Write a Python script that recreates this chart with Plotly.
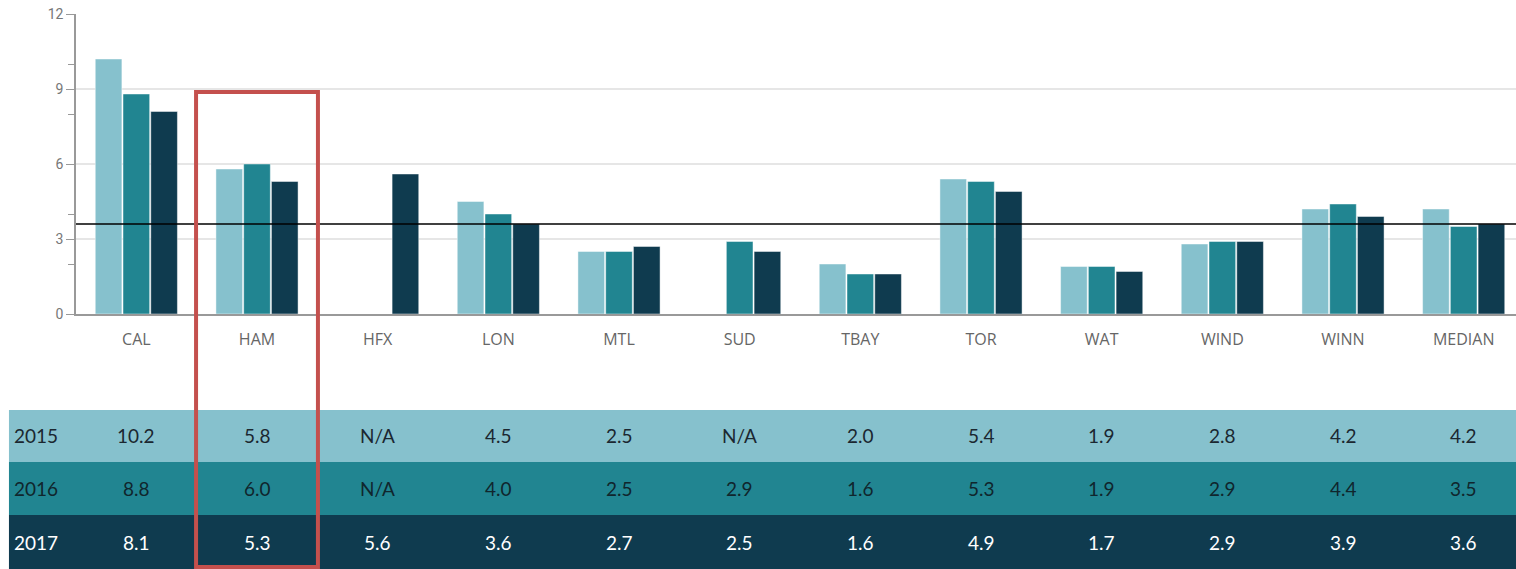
import plotly.graph_objects as go

categories = ["CAL", "HAM", "HFX", "LON", "MTL", "SUD", "TBAY", "TOR", "WAT", "WIND", "WINN", "MEDIAN"]
years = ["2015", "2016", "2017"]
v2015 = [10.2, 5.8, None, 4.5, 2.5, None, 2.0, 5.4, 1.9, 2.8, 4.2, 4.2]
v2016 = [8.8, 6.0, None, 4.0, 2.5, 2.9, 1.6, 5.3, 1.9, 2.9, 4.4, 3.5]
v2017 = [8.1, 5.3, 5.6, 3.6, 2.7, 2.5, 1.6, 4.9, 1.7, 2.9, 3.9, 3.6]
series = [v2015, v2016, v2017]
colors = ["#86c1cd", "#218591", "#0f3b4f"]
text_colors = ["#1b2730", "#10262d", "#ffffff"]
highlight = "HAM"
y_ticks = [0, 3, 6, 9, 12]
minor_ticks = [2, 4, 8, 10]
ref_value = v2017[-1]  # median 2017

fig = go.Figure()
for yr, vals, c in zip(years, series, colors):
    fig.add_trace(go.Bar(
        x=categories, y=vals, name=yr, marker_color=c,
        marker_line=dict(color="rgba(255,255,255,0.45)", width=1),
        showlegend=False,
    ))

# reference line
fig.add_shape(type="line", xref="paper", yref="y", x0=0, x1=1, y0=ref_value, y1=ref_value,
              line=dict(color="#000000", width=1.5), layer="above")

# table rows (paper coords: plot area 300px tall)
row_edges = [-0.32, -0.4933, -0.67, -0.85]
table_left = -0.0463
for i, (yr, vals) in enumerate(zip(years, series)):
    y0, y1 = row_edges[i + 1], row_edges[i]
    fig.add_shape(type="rect", xref="paper", yref="paper", x0=table_left, x1=1.0, y0=y0, y1=y1,
                  fillcolor=colors[i], line=dict(width=0), layer="below")
    ym = (y0 + y1) / 2
    fig.add_annotation(xref="paper", yref="paper", x=table_left + 0.002, y=ym, text=yr,
                       showarrow=False, xanchor="left", yanchor="middle",
                       font=dict(family="Lato", size=19, color=text_colors[i]))
    for cat, v in zip(categories, vals):
        fig.add_annotation(xref="x", yref="paper", x=cat, y=ym,
                           text="N/A" if v is None else f"{v:.1f}",
                           showarrow=False, xanchor="center", yanchor="middle",
                           font=dict(family="Lato", size=19, color=text_colors[i]))

# highlight rectangle around HAM
hi = categories.index(highlight)
fig.add_shape(type="rect", xref="x", yref="paper", x0=hi - 0.505, x1=hi + 0.505, y0=-0.843, y1=0.74,
              line=dict(color="#c4504d", width=4), fillcolor="rgba(0,0,0,0)", layer="above")

fig.update_layout(
    width=1524, height=569,
    margin=dict(l=76, r=0, t=14, b=255),
    paper_bgcolor="white", plot_bgcolor="white",
    barmode="group", bargap=0.31, bargroupgap=0.04,
    font=dict(family="Roboto", color="#666666"),
)
fig.update_xaxes(
    showline=True, linecolor="#999999", linewidth=1.5,
    tickfont=dict(family="Open Sans", size=16, color="#666666"),
    ticks="", ticklabelstandoff=10, fixedrange=True,
)
fig.update_yaxes(
    range=[0, 12], tickvals=y_ticks, showgrid=True, gridcolor="#e6e6e6", gridwidth=1.5,
    zeroline=False, showline=True, linecolor="#999999", linewidth=1.5,
    ticks="outside", ticklen=8, tickcolor="#999999", ticklabeloverflow="allow",
    tickfont=dict(family="Roboto", size=14, color="#777777"),
    minor=dict(tickvals=minor_ticks, ticks="outside", ticklen=6, tickcolor="#999999", showgrid=False),
)

fig.write_html(
    "out.html",
    config={"displayModeBar": False},
    post_script="document.body.style.margin='0';document.body.style.overflow='hidden';",
)
